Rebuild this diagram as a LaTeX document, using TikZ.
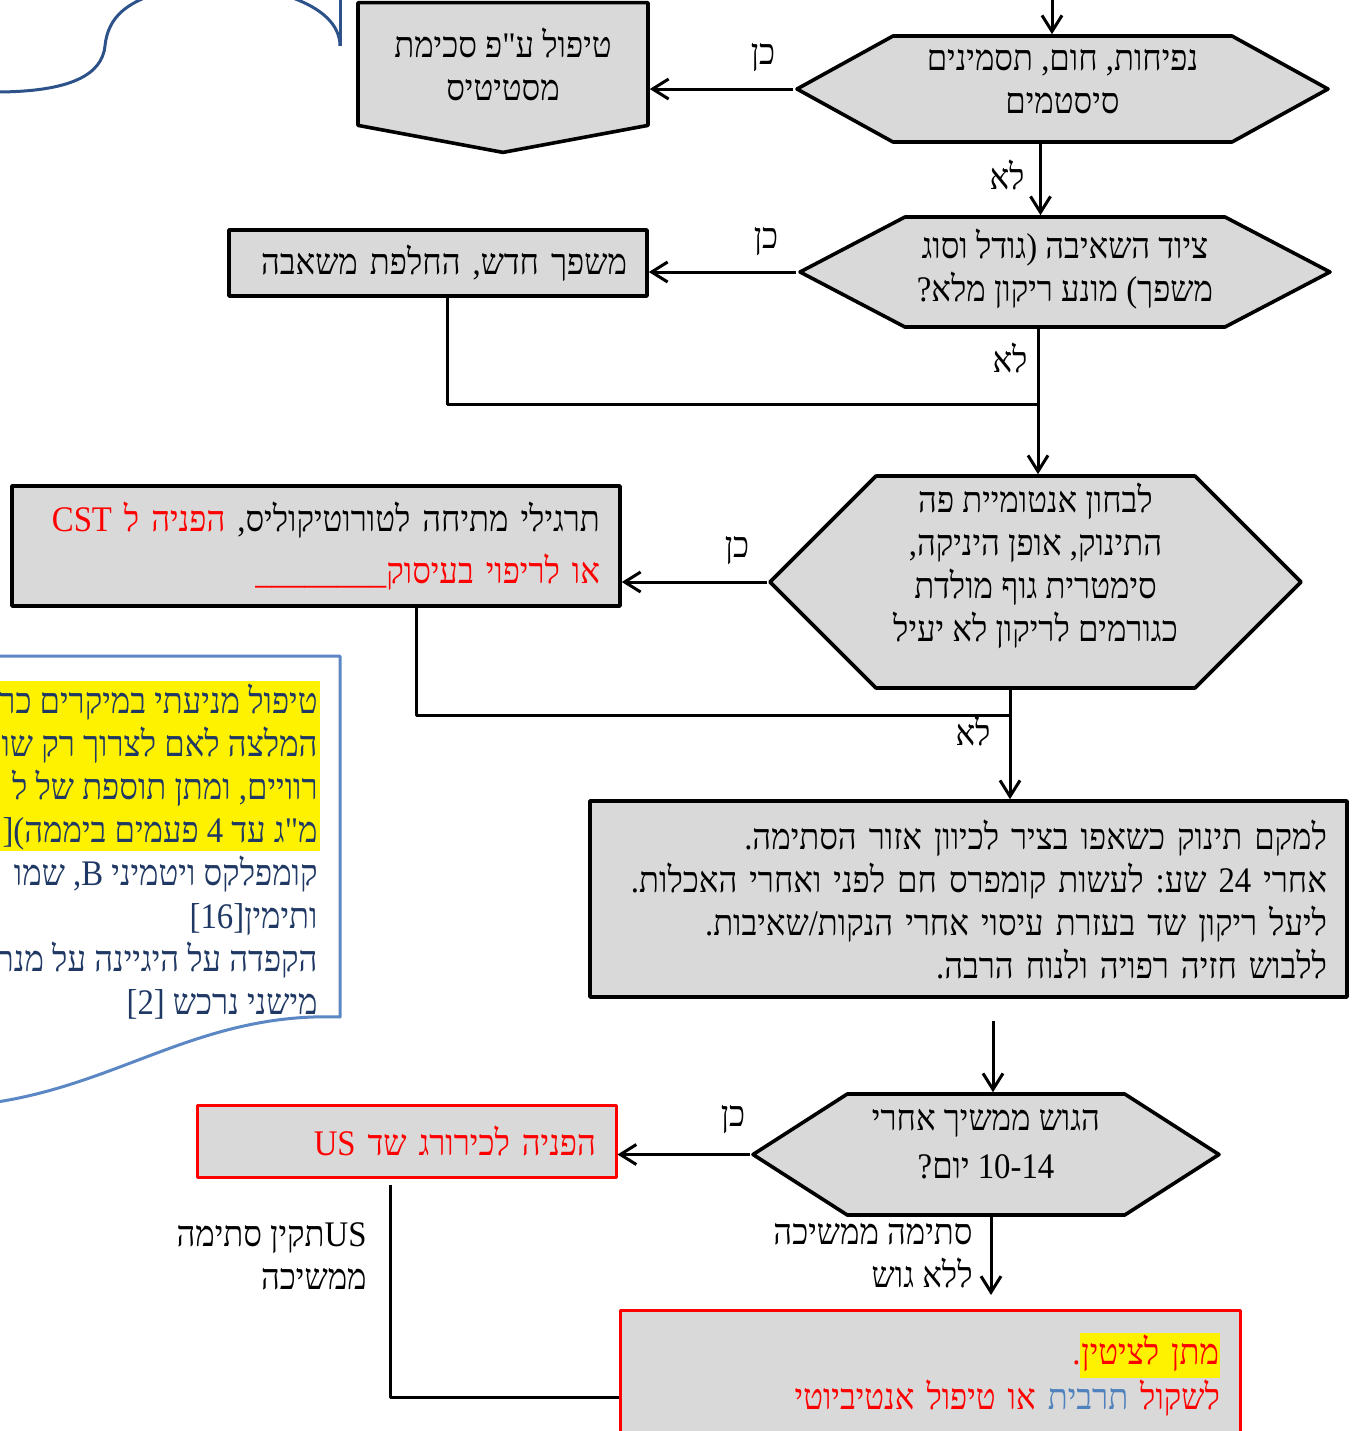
\documentclass[tikz,border=0pt]{standalone}
\usepackage{fontspec}
\setmainfont{Liberation Serif}[Script=Hebrew, Ligatures=TeXOff, FakeStretch=0.91]
\TeXXeTstate=1
\frenchspacing
\usetikzlibrary{shapes.symbols,arrows.meta}
\definecolor{boxgray}{HTML}{D9D9D9}
\definecolor{notetext}{HTML}{1F3864}
\definecolor{noteline}{HTML}{5B87C5}
\definecolor{cloudline}{HTML}{2C5289}
\definecolor{culture}{HTML}{4F81BD}
\newcommand{\heb}[1]{\beginR #1\endR}
\newcommand{\ltr}[1]{\beginL #1\endL{}}
\newcommand{\hebc}[2]{\mbox{\textcolor{#1}{\beginR #2\endR}}}
\setlength{\fboxsep}{0.5pt}
\tikzset{
  hebtext/.style={font=\fontsize{18}{21.5}\selectfont},
  askbox/.style={hebtext, shape=signal, signal to=west and east, draw, fill=boxgray, line width=1.8pt, align=center, inner sep=0pt},
  actbox/.style={hebtext, rectangle, draw, fill=boxgray, line width=1.8pt, align=right, inner xsep=10pt, inner ysep=0pt},
  redbox/.style={actbox, draw=red, line width=1.5pt},
  flow/.style={line width=1.5pt, -{Straight Barb[length=8pt,width=10pt]}},
  joinln/.style={line width=1.5pt},
  lbl/.style={hebtext, inner sep=0pt}
}
\begin{document}
\begin{tikzpicture}[x=0.5pt, y=-0.5pt, line join=round]
\useasboundingbox (0,0) rectangle (1351,1431);
\clip (0,0) rectangle (1351,1431);
\draw[cloudline, line width=1.5pt] (-5,92) .. controls (70,92) and (102,75) .. (105,46) .. controls (108,15) and (130,3) .. (152,-5);
\draw[cloudline, line width=1.5pt] (290,-3) .. controls (322,8) and (340,25) .. (340,46);
\draw[cloudline, line width=1.5pt] (340,-3) -- (340,46);
\filldraw[fill=white, draw=noteline, line width=1.5pt] (-10,656) -- (340,656) -- (340,1017) .. controls (200,1012) and (120,1085) .. (-10,1103);
\fill[yellow] (-10,681) rectangle (320,851);
\node[hebtext, text=notetext, anchor=north east, align=right, inner sep=0pt] (note) at (318,684)
  {\heb{טיפול מניעתי במיקרים כר}\\\heb{המלצה לאם לצרוך רק שו}\\\heb{רוויים, ומתן תוספת של ל}\\\heb{מ"ג עד \ltr{4} פעמים ביממה)[}\\\heb{קומפלקס ויטמיני \ltr{B}, שמו}\\\heb{ותימין\ltr{[16]}}\\\heb{הקפדה על היגיינה על מנת}\\\heb{מישני נרכש \ltr{[2]}}};
\node[askbox, signal pointer angle=57.8, minimum width=265.5pt, minimum height=53pt, text depth=7.5pt] (h1) at (1062.5,89)
  {\heb{נפיחות, חום, תסמינים}\\\heb{סיסטמים}};
\node[hebtext, shape=signal, signal to=south, signal pointer angle=158.9, draw, fill=boxgray, line width=1.8pt, align=center, inner sep=0pt, minimum width=145pt, minimum height=71.5pt] (b1) at (503,64)
  {\heb{טיפול ע"פ סכימת}\\\heb{מסטיטיס}};
\node[askbox, signal pointer angle=55.3, minimum width=265pt, minimum height=55pt, text depth=7pt] (h2) at (1065,272)
  {\heb{ציוד השאיבה (גודל וסוג}\\\heb{משפך) מונע ריקון מלא?}};
\node[actbox, minimum width=209pt, minimum height=33pt, text width=189pt] (b2) at (438,263)
  {\heb{משפך חדש, החלפת משאבה}};
\node[askbox, signal pointer angle=90, minimum width=265.5pt, minimum height=106pt, text depth=20pt] (h3) at (1035.5,582)
  {\heb{לבחון אנטומיית פה}\\\heb{התינוק, אופן היניקה,}\\\heb{סימטרית גוף מולדת}\\\heb{כגורמים לריקון לא יעיל}};
\node[actbox, minimum width=304pt, minimum height=60pt, text width=284pt] (b3) at (316,546)
  {\hebc{red}{הפניה ל \ltr{CST}} \heb{תרגילי מתיחה לטורוטיקוליס,}\\[4.5pt]\hebc{red}{או לריפוי בעיסוק\_\_\_\_\_\_\_\_}};
\node[actbox, minimum width=378.5pt, minimum height=98pt, text width=358.5pt] (b4) at (968.5,899)
  {\heb{למקם תינוק כשאפו בציר לכיוון אזור הסתימה.}\\\heb{אחרי \ltr{24} שע: לעשות קומפרס חם לפני ואחרי האכלות.}\\\heb{ליעל ריקון שד בעזרת עיסוי אחרי הנקות/שאיבות.}\\\heb{ללבוש חזיה רפויה ולנוח הרבה.}};
\node[askbox, signal pointer angle=65.4, minimum width=233pt, minimum height=60.5pt, text depth=11pt] (h4) at (986,1154.5)
  {\heb{הגוש ממשיך אחרי}\\[2.5pt]\heb{\ltr{10-14} יום?}};
\node[redbox, minimum width=209.5pt, minimum height=36pt, text width=189.5pt] (b5) at (406.5,1141)
  {\hebc{red}{הפניה לכירורג שד \ltr{US}}};
\node[redbox, minimum width=310pt, minimum height=65pt, text width=290pt] (b6) at (930,1375)
  {\textcolor{red}{.}\colorbox{yellow}{\strut\hebc{red}{מתן לציטין}}\\\hebc{red}{או טיפול אנטיביוטי} \hebc{culture}{תרבית} \hebc{red}{לשקול}};
\node[lbl] (yes1) at (763,58) {\heb{כן}};
\node[lbl] (yes2) at (766,242) {\heb{כן}};
\node[lbl] (yes3) at (737,551) {\heb{כן}};
\node[lbl] (yes4) at (733,1120) {\heb{כן}};
\node[lbl] (no1) at (1007,175) {\heb{לא}};
\node[lbl] (no2) at (1010,358) {\heb{לא}};
\node[lbl] (no3) at (973,731) {\heb{לא}};
\node[lbl, anchor=east, align=right] (usok) at (367,1256) {\heb{\ltr{US}תקין סתימה}\\\heb{ממשיכה}};
\node[lbl, anchor=east, align=right] (still) at (973,1256) {\heb{סתימה ממשיכה}\\\heb{ללא גוש}};
\coordinate (in1) at (1052,-5);
\coordinate (j1) at (1038,404);
\coordinate (j2) at (1010,715);
\coordinate (s4) at (993,1021);
\coordinate (e4) at (991,1295);
\draw[flow] (in1) -- (in1 |- h1.north);
\draw[flow] (h1.west) -- (h1.west -| b1.east);
\draw[flow] ([xshift=-11pt]h1.south) -- ([xshift=-11pt]h1.south |- h2.north);
\draw[flow] (h2.west) -- (h2.west -| b2.east);
\draw[joinln] ([xshift=4.5pt]b2.south) |- (j1);
\draw[flow] (j1 |- h2.south) -- (j1 |- h3.north);
\draw[flow] (h3.west) -- (h3.west -| b3.east);
\draw[joinln] ([xshift=50pt]b3.south) |- (j2);
\draw[flow] (j2 |- h3.south) -- (j2 |- b4.north);
\draw[flow] (s4) -- (s4 |- h4.north);
\draw[flow] (h4.west) -- (h4.west -| b5.east);
\draw[flow] (e4 |- h4.south) -- (e4);
\draw[joinln] ([xshift=-8.25pt,yshift=-3pt]b5.south) |- ([yshift=-11pt]b6.west);
\end{tikzpicture}
\end{document}
